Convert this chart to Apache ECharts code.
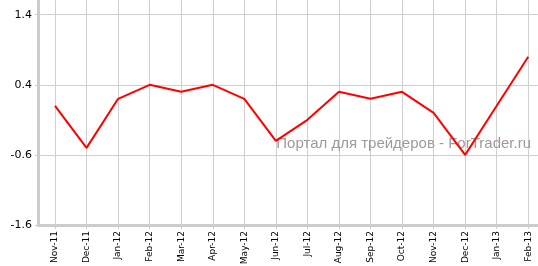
<!DOCTYPE html>
<html><head><meta charset="utf-8">
<script src="https://cdn.jsdelivr.net/npm/echarts@6/dist/echarts.min.js"></script>
<style>html,body{margin:0;padding:0;background:#fff}#c{width:538px;height:266px}</style>
</head><body><div id="c"></div>
<script>
const categories = ['Nov-11','Dec-11','Jan-12','Feb-12','Mar-12','Apr-12','May-12','Jun-12','Jul-12','Aug-12','Sep-12','Oct-12','Nov-12','Dec-12','Jan-13','Feb-13'];
const values = [0.1, -0.5, 0.2, 0.4, 0.3, 0.4, 0.2, -0.4, -0.1, 0.3, 0.2, 0.3, 0.0, -0.6, 0.1, 0.8];
const yTicks = [-1.6, -0.6, 0.4, 1.4];
const watermark = 'Портал для трейдеров - ForTrader.ru';

const xIdx = categories.map((c, i) => i);
const chart = echarts.init(document.getElementById('c'), null, {renderer: 'canvas'});
chart.setOption({
  animation: false,
  backgroundColor: '#fff',
  grid: {left: 38, top: -55.4, width: 512, height: 280.4, containLabel: false, outerBoundsMode: 'none'},
  xAxis: {
    type: 'value', min: -0.5388, max: 15.689,
    axisLine: {onZero: false, lineStyle: {color: '#cccccc', width: 3}},
    axisTick: {show: true, length: 4, lineStyle: {color: '#cccccc'}, customValues: xIdx},
    splitLine: {show: true, lineStyle: {color: '#d0d0d0', width: 1}},
    axisLabel: {customValues: xIdx, rotate: 90, margin: 6, color: '#000', fontFamily: 'DejaVu Sans', fontSize: 9,
      formatter: v => categories[Math.round(v)] || ''}
  },
  yAxis: {
    type: 'value', min: -1.6, max: 2.4,
    axisLine: {show: true, onZero: false, lineStyle: {color: '#cccccc', width: 3}},
    axisTick: {show: true, length: 3, lineStyle: {color: '#cccccc'}, customValues: yTicks},
    splitLine: {show: true, lineStyle: {color: '#d0d0d0', width: 1}},
    axisLabel: {customValues: yTicks, margin: 6, color: '#000', fontFamily: 'DejaVu Sans', fontSize: 11,
      formatter: v => v.toFixed(1)}
  },
  graphic: [{
    type: 'text', right: 7, top: 136, z: 1,
    style: {text: watermark, fill: '#a39898', font: '15px "Liberation Sans"'}
  }],
  series: [{
    type: 'line', data: values.map((v, i) => [xIdx[i], v]),
    showSymbol: false, symbol: 'none',
    lineStyle: {color: '#ff0000', width: 2}, z: 5
  }]
});
</script></body></html>
